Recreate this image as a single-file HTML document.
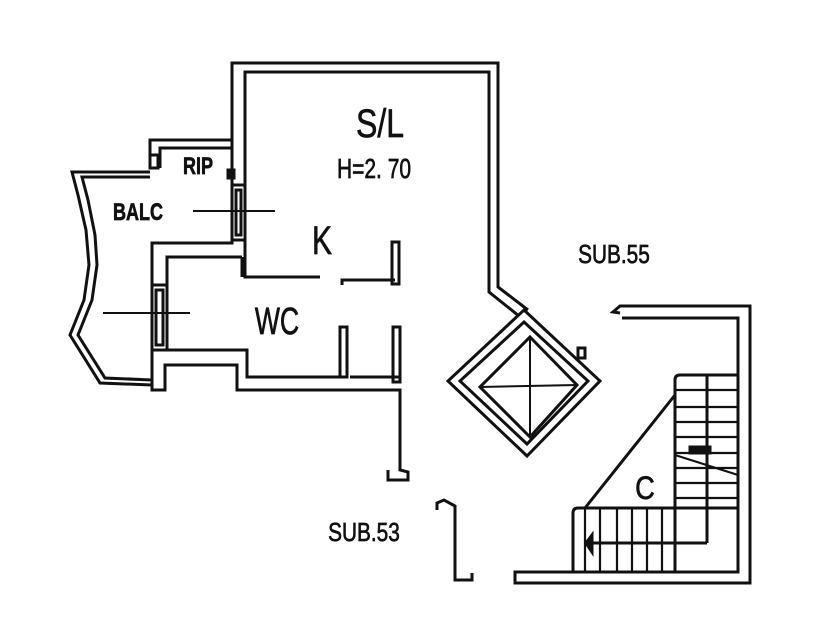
<!DOCTYPE html>
<html><head><style>
html,body{margin:0;padding:0;background:#fff;}
svg{display:block}
text{font-family:"Liberation Sans",sans-serif;fill:#111;stroke:#111;stroke-width:0.7;}
</style></head><body>
<svg width="840" height="630" viewBox="0 0 840 630" xmlns="http://www.w3.org/2000/svg">
<g fill="none" stroke="#111" stroke-width="3" stroke-linejoin="miter">
<polyline points="232,185 232,63 498,63 498,287 528,310"/>
<polyline points="245,185 245,72 489,72 489,292 519,316"/>
<rect x="232" y="185" width="13" height="55"/>
<rect x="236" y="190" width="5" height="45"/>
<line x1="193" y1="211" x2="275" y2="211" stroke-width="2"/>
<polyline points="245,240 245,277 320,277"/>
<polyline points="232,240 232,243 152,243 152,285"/>
<polyline points="242,257 167,257 167,285"/>
<line x1="242" y1="257" x2="242" y2="277"/>
<polyline points="342,285 342,280 395,280"/>
<rect x="392" y="242" width="7" height="42"/>
<rect x="152" y="285" width="15" height="65"/>
<rect x="156" y="290" width="7" height="55"/>
<line x1="103" y1="313" x2="190" y2="313" stroke-width="2"/>
<polyline points="167,350 247,350 247,377 342,377"/>
<polyline points="152,350 152,390 165,390 165,365 237,365 237,390 400,390 400,470 408,472 408,480 388,480 388,470"/>
<polyline points="350,377 400,377"/>
<rect x="340" y="327" width="7" height="50"/>
<rect x="393" y="327" width="7" height="55"/>
<polyline points="150,168 150,140 232,140"/>
<polyline points="160,168 160,148 232,148"/>
<rect x="150" y="155" width="8" height="13"/>
<rect x="228" y="170" width="6" height="8" fill="#111"/>
<polyline points="150,172 72,172 78,195 86,230 89,265 84,300 70,335 100,383 152,385"/>
<polyline points="150,177 82,177 88,200 95,235 97,265 92,300 78,335 105,378 152,380"/>
<polygon points="524,310 600,381 527,456 448,381"/>
<polygon points="524,322 588,381 527,444 460,381"/>
<polygon points="530,337 577,385 530,437 480,387"/>
<line x1="530" y1="337" x2="530" y2="437" stroke-width="2"/>
<line x1="480" y1="387" x2="577" y2="385" stroke-width="2"/>
<rect x="578" y="348" width="7" height="10"/>
<polyline points="620,313 613,312 620,306 750,306 750,583 515,583 515,572 738,572 738,318 622,318"/>
<path d="M675,572 V380 Q675,375 680,375 H738"/>
<line x1="707" y1="375" x2="707" y2="543"/>
<path d="M675,390H738M675,407H738M675,422H738M675,437H738M675,453H738M675,468H738M675,483H738M675,498H738" stroke-width="2.2"/>
<line x1="675" y1="455" x2="738" y2="475" stroke-width="2.2"/>
<rect x="690" y="447" width="20" height="6" fill="#111"/>
<path d="M573,572 V513 Q573,508 578,508 H738"/>
<path d="M585,508V572M600,508V572M617,508V572M632,508V572M647,508V572M662,508V572" stroke-width="2.2"/>
<line x1="585" y1="543" x2="707" y2="543"/>
<line x1="585" y1="508" x2="675" y2="395"/>
<polygon points="586,543 592,535 592,552" fill="#111"/>
<polyline points="437,510 437,503 444,500 455,506 455,580 472,580 472,573"/>
</g>
<text x="380" y="137" font-size="40" text-anchor="middle" transform="translate(380,0) scale(0.8,1) translate(-380,0)">S/L</text>
<text x="374" y="178" font-size="28" text-anchor="middle" transform="translate(374,0) scale(0.75,1) translate(-374,0)">H=2. 70</text>
<text x="322" y="254" font-size="40" text-anchor="middle" transform="translate(322,0) scale(0.75,1) translate(-322,0)">K</text>
<text x="277" y="334" font-size="38" text-anchor="middle" transform="translate(277,0) scale(0.7,1) translate(-277,0)">WC</text>
<text x="138" y="220" font-size="24" font-weight="bold" text-anchor="middle" transform="translate(138,0) scale(0.75,1) translate(-138,0)">BALC</text>
<text x="198" y="174" font-size="24" font-weight="bold" text-anchor="middle" transform="translate(198,0) scale(0.75,1) translate(-198,0)">RIP</text>
<text x="614" y="263" font-size="26" text-anchor="middle" transform="translate(614,0) scale(0.8,1) translate(-614,0)">SUB.55</text>
<text x="364" y="541" font-size="26" text-anchor="middle" transform="translate(364,0) scale(0.8,1) translate(-364,0)">SUB.53</text>
<text x="645" y="499" font-size="32" text-anchor="middle" transform="translate(645,0) scale(0.85,1) translate(-645,0)">C</text>
</svg>
</body></html>
